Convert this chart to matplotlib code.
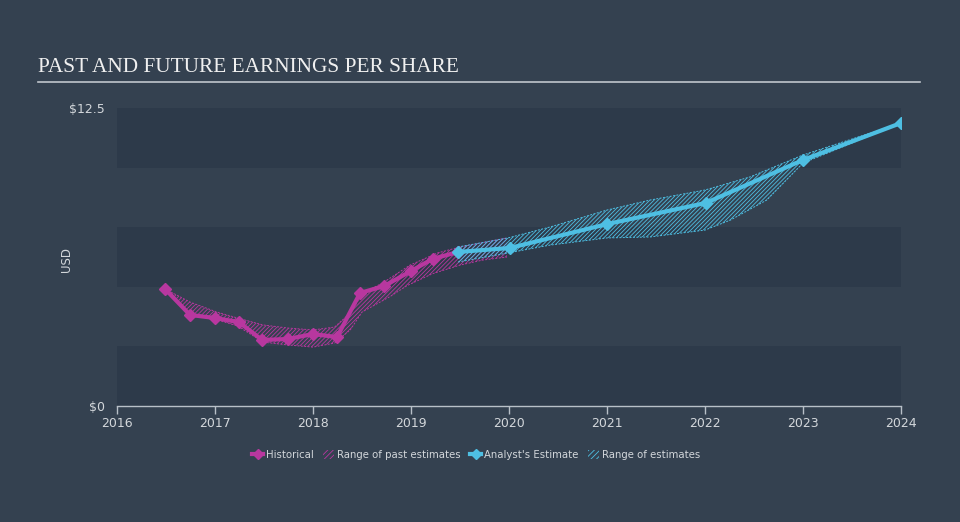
import matplotlib.pyplot as plt
import numpy as np
from matplotlib.lines import Line2D
from matplotlib.patches import Patch

plt.rcParams['hatch.linewidth'] = 0.6

# 数据
hist_x = [2016.49, 2016.745, 2017.0, 2017.245, 2017.48, 2017.745, 2018.0, 2018.245,
          2018.48, 2018.725, 2019.0, 2019.22, 2019.48]
hist_y = [4.91, 3.82, 3.69, 3.52, 2.77, 2.81, 3.02, 2.89, 4.74, 5.03, 5.66, 6.17, 6.46]

est_x = [2019.48, 2020.01, 2021.0, 2022.01, 2023.0, 2024.0]
est_y = [6.46, 6.63, 7.63, 8.52, 10.32, 11.87]

past_hi_x = [2016.49, 2016.745, 2017.02, 2017.23, 2017.49, 2017.745, 2018.0, 2018.22,
             2018.38, 2018.51, 2018.71, 2018.99, 2019.27, 2019.5, 2019.98]
past_hi = [4.91, 4.36, 3.94, 3.69, 3.40, 3.27, 3.19, 3.31, 3.90, 4.74, 5.16, 5.91, 6.42,
           6.67, 7.05]
past_lo_x = [2016.49, 2016.745, 2017.02, 2017.23, 2017.49, 2017.745, 2018.0, 2018.22,
             2018.38, 2018.5, 2018.79, 2018.96, 2019.22, 2019.5, 2019.73, 2019.98]
past_lo = [4.91, 3.82, 3.61, 3.36, 2.68, 2.56, 2.47, 2.64, 3.19, 3.94, 4.6, 5.05, 5.55,
           5.91, 6.12, 6.25]

fut_hi_x = [2019.48, 2019.99, 2020.42, 2021.0, 2021.44, 2022.0, 2022.46, 2023.0, 2024.0]
fut_hi = [6.67, 7.05, 7.51, 8.22, 8.64, 9.06, 9.61, 10.53, 11.87]
fut_lo_x = [2019.48, 2019.99, 2020.42, 2021.0, 2021.44, 2022.0, 2022.26, 2022.63, 2023.0,
            2024.0]
fut_lo = [6.04, 6.42, 6.75, 7.05, 7.09, 7.38, 7.80, 8.64, 10.19, 11.87]

years = list(range(2016, 2025))

# 颜色
bg = '#344150'
band = '#2d3a4a'
mag = '#b8379f'
cyan = '#4ebfe3'
txt = '#d3d7db'


def hatch_range(ax, xh, yh, xl, yl, color):
    # 合成一个闭合多边形：上沿正向 + 下沿反向
    xs = list(xh) + list(xl)[::-1]
    ys = list(yh) + list(yl)[::-1]
    ax.fill(xs, ys, facecolor='none', edgecolor=color, hatch='////////', lw=0, zorder=2)
    ax.plot(xh, yh, color=color, lw=0.7, ls=(0, (2, 1.5)), zorder=2)
    ax.plot(xl, yl, color=color, lw=0.7, ls=(0, (2, 1.5)), zorder=2)


fig = plt.figure(figsize=(9.6, 5.22), dpi=100, facecolor=bg)
ax = fig.add_axes([117/960, 1-406/522, 784/960, 298/522])
ax.set_facecolor(bg)
ax.set_xlim(2016, 2024)
ax.set_ylim(0, 12.5)

# 横向色带
for lo in [0, 5, 10]:
    ax.axhspan(lo, lo + 2.5, color=band, lw=0, zorder=0)

# 估计范围（阴影线）
hatch_range(ax, past_hi_x, past_hi, past_lo_x, past_lo, mag)
hatch_range(ax, fut_hi_x, fut_hi, fut_lo_x, fut_lo, cyan)

# 折线
ax.plot(hist_x, hist_y, color=mag, lw=3, marker='D', ms=6, zorder=4)
ax.plot(est_x, est_y, color=cyan, lw=3, marker='D', ms=6, zorder=5)

# 坐标轴
for s in ['top', 'right', 'left']:
    ax.spines[s].set_visible(False)
ax.spines['bottom'].set_color('#b8c0c8')
ax.spines['bottom'].set_linewidth(1)
ax.set_xticks(years)
ax.set_xticklabels([str(y) for y in years])
ax.tick_params(axis='x', colors='#b8c0c8', labelcolor=txt, labelsize=9,
               length=6, width=1, pad=2)
ax.set_yticks([0, 12.5])
ax.set_yticklabels(['$0', '$12.5'])
ax.tick_params(axis='y', length=0, labelcolor=txt, labelsize=9, pad=9)
ax.set_ylabel('USD', color=txt, fontsize=8.5)
ax.yaxis.set_label_coords(-0.056, 0.49)

# 标题
fig.text(38/960, 1-67/522, 'PAST AND FUTURE EARNINGS PER SHARE', color='#f0f0f0',
         fontsize=15.3, family='Liberation Serif', va='center', ha='left')
fig.add_artist(Line2D([38/960, 920/960], [1-82/522, 1-82/522], color='#c0c6cc', lw=1.2))

# 图例
handles = [
    Line2D([], [], color=mag, lw=3, marker='D', ms=5),
    Patch(facecolor='none', edgecolor=mag, hatch='//////', lw=0),
    Line2D([], [], color=cyan, lw=3, marker='D', ms=5),
    Patch(facecolor='none', edgecolor=cyan, hatch='//////', lw=0),
]
labels = ['Historical', 'Range of past estimates', "Analyst's Estimate", 'Range of estimates']
leg = fig.legend(handles, labels, loc='center', bbox_to_anchor=(476/960, 1-455/522),
                 ncol=4, frameon=False, fontsize=7.3, labelcolor=txt,
                 handlelength=1.1, handletextpad=0.3, columnspacing=0.9,
                 handleheight=0.9)

fig.savefig('out.png', dpi=100, facecolor=bg)
